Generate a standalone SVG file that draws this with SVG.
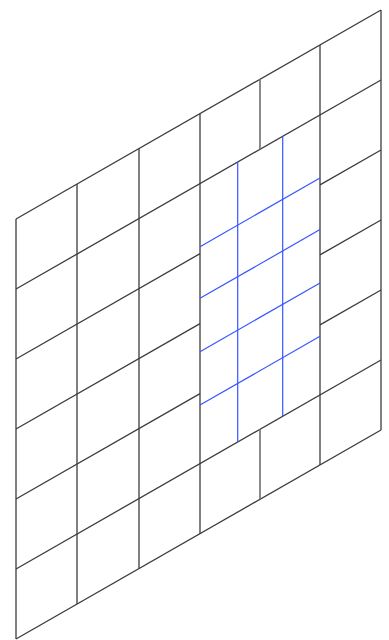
<svg xmlns="http://www.w3.org/2000/svg" width="389" height="640" viewBox="0 0 389 640">
<style>
.g{stroke:#3c3c3c;stroke-width:1.3;fill:none;stroke-linecap:butt}
.m{stroke:#777;stroke-width:1.7;fill:none}
.b{stroke:#3556ff;stroke-width:1.2;fill:none}
</style>
<rect width="389" height="640" fill="#fff"/>
<g id="grid-rows" class="g">
<line x1="16" y1="219" x2="381" y2="10"/>
<line x1="16" y1="289" x2="381" y2="80"/>
<line x1="16" y1="359" x2="200" y2="253.64"/>
<line x1="320" y1="184.93" x2="381" y2="150"/>
<line x1="16" y1="429" x2="200" y2="323.64"/>
<line x1="320" y1="254.93" x2="381" y2="220"/>
<line x1="16" y1="499" x2="200" y2="393.64"/>
<line x1="320" y1="324.93" x2="381" y2="290"/>
<line x1="16" y1="569" x2="381" y2="360"/>
<line x1="16" y1="639" x2="381" y2="430"/>
</g>
<g id="grid-cols" class="g">
<line x1="16" y1="219" x2="16" y2="639"/>
<line x1="77" y1="184.07" x2="77" y2="604.07"/>
<line x1="139" y1="148.57" x2="139" y2="568.57"/>
<line x1="200" y1="113.64" x2="200" y2="533.64"/>
<line x1="320" y1="44.93" x2="320" y2="464.93"/>
<line x1="381" y1="10" x2="381" y2="430"/>
</g>
<g id="grid-mid" class="m">
<line x1="260" y1="79.29" x2="260" y2="149.29"/>
<line x1="260" y1="429.29" x2="260" y2="499.29"/>
</g>
<g id="fine-grid" class="b">
<line x1="237.7" y1="162.05" x2="237.7" y2="442.05"/>
<line x1="282.7" y1="136.28" x2="282.7" y2="416.28"/>
<line x1="200" y1="246.7" x2="320" y2="178"/>
<line x1="200" y1="298.3" x2="320" y2="229.6"/>
<line x1="200" y1="351.7" x2="320" y2="283"/>
<line x1="200" y1="405" x2="320" y2="336.3"/>
</g>
</svg>
